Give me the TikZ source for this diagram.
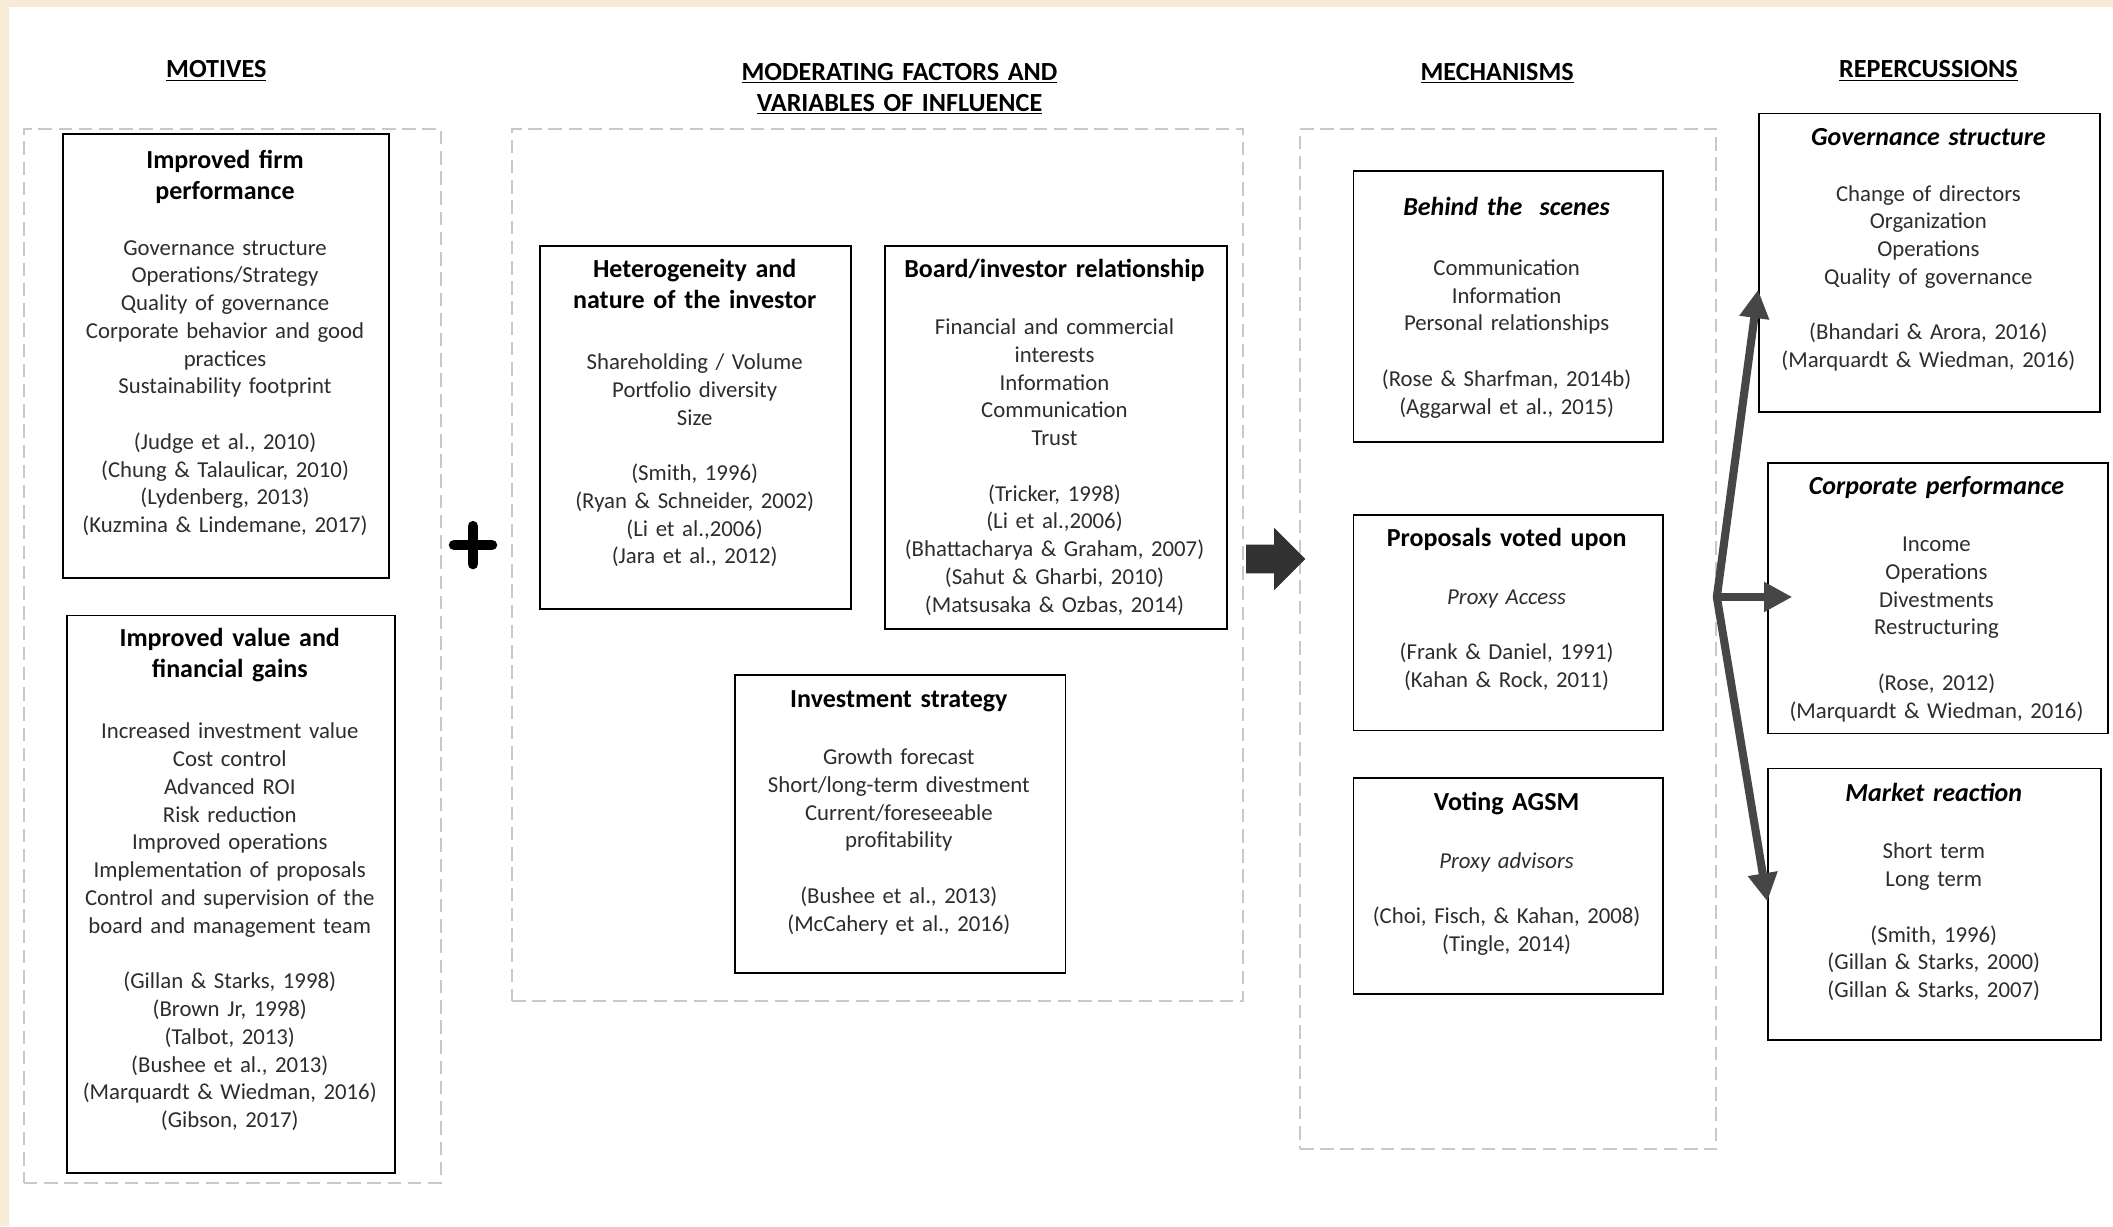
\documentclass[tikz,border=0pt]{standalone}
\usepackage{fontspec}
\setmainfont{Carlito}
\usetikzlibrary{arrows.meta,shapes.arrows}
\definecolor{cream}{RGB}{245,235,215}
\definecolor{dashgray}{RGB}{200,200,200}
\definecolor{bodytext}{RGB}{45,45,45}
\definecolor{arrowdark}{RGB}{50,50,50}
\definecolor{forkgray}{RGB}{70,70,70}
\begin{document}
\begin{tikzpicture}[x=1pt,y=-1pt,
  box/.style={draw=black, line width=1.4pt, inner sep=0pt, anchor=north west},
  cont/.style={draw=dashgray, line width=1.4pt, dash pattern=on 10pt off 5pt, inner sep=0pt, anchor=north west},
  ttl/.style={align=center, text width=#1, inner sep=0pt, anchor=base, yshift=-1pt, font=\fontsize{19.3}{23}\selectfont\bfseries},
  body/.style={align=center, text width=#1, inner sep=0pt, anchor=base, yshift=-1pt, text=bodytext, font=\fontsize{16.9}{20.6}\selectfont},
  hdr/.style={align=center, text width=#1, inner sep=0pt, anchor=base, yshift=-1pt, font=\fontsize{19.4}{23}\selectfont\bfseries},
  forkline/.style={draw=forkgray, line width=6pt, line join=round},
  tipstyle/.style={-{Triangle[width=21pt,length=21pt]}}
]
\useasboundingbox (0,0) rectangle (1568,910);
\fill[white] (0,0) rectangle (1568,910);
\fill[cream] (0,0) rectangle (1568,5);
\fill[cream] (0,0) rectangle (7,910);

% headers
\node[hdr=200] (hmot) at (160.5,56.7) {\underline{MOTIVES}};
\node[hdr=340] (hmod) at (667.5,58.7) {\underline{MODERATING FACTORS AND}\\\underline{VARIABLES OF INFLUENCE}};
\node[hdr=220] (hmech) at (1111,58.7) {\underline{MECHANISMS}};
\node[hdr=220] (hrep) at (1431,56.7) {\underline{REPERCUSSIONS}};

% dashed containers
\node[cont, minimum width=309.4pt, minimum height=782pt] (cmot) at (17,95) {};
\node[cont, minimum width=542.5pt, minimum height=647pt] (cmod) at (379.3,95) {};
\node[cont, minimum width=309pt, minimum height=757pt] (cmech) at (964,95) {};

% Motives
\node[box, minimum width=242pt, minimum height=329pt] (b1) at (46,99) {};
\node[ttl=242pt] (b1t) at (167,123.7) {Improved firm\\performance};
\node[body=242pt] (b1b) at (167,188.3) {Governance structure\\Operations/Strategy\\Quality of governance\\Corporate behavior and good\\practices\\Sustainability footprint\\[20.6pt](Judge et al., 2010)\\(Chung \& Talaulicar, 2010)\\(Lydenberg, 2013)\\(Kuzmina \& Lindemane, 2017)};

\node[box, minimum width=243.5pt, minimum height=414pt] (b2) at (49,456) {};
\node[ttl=243pt] (b2t) at (170.5,478.7) {Improved value and\\financial gains};
\node[body=243pt] (b2b) at (170.5,547.3) {Increased investment value\\Cost control\\Advanced ROI\\Risk reduction\\Improved operations\\Implementation of proposals\\Control and supervision of the\\board and management team\\[20.6pt](Gillan \& Starks, 1998)\\(Brown Jr, 1998)\\(Talbot, 2013)\\(Bushee et al., 2013)\\(Marquardt \& Wiedman, 2016)\\(Gibson, 2017)};

% plus
\coordinate (plus) at (351,404.5);
\draw[line width=8pt, line cap=round] ([xshift=-14pt]plus) -- ([xshift=14pt]plus);
\draw[line width=8pt, line cap=round] ([yshift=-14pt]plus) -- ([yshift=14pt]plus);

% Moderating
\node[box, minimum width=231pt, minimum height=269.5pt] (b3) at (400,182) {};
\node[ttl=231pt] (b3t) at (515.5,204.7) {Heterogeneity and\\nature of the investor};
\node[body=231pt] (b3b) at (515.5,273.3) {Shareholding / Volume\\Portfolio diversity\\Size\\[20.6pt](Smith, 1996)\\(Ryan \& Schneider, 2002)\\(Li et al.,2006)\\(Jara et al., 2012)};

\node[box, minimum width=253.5pt, minimum height=284pt] (b4) at (656,182) {};
\node[ttl=253pt] (b4t) at (782.5,204.7) {Board/investor relationship};
\node[body=253pt] (b4b) at (782.5,247.3) {Financial and commercial\\interests\\Information\\Communication\\Trust\\[20.6pt](Tricker, 1998)\\(Li et al.,2006)\\(Bhattacharya \& Graham, 2007)\\(Sahut \& Gharbi, 2010)\\(Matsusaka \& Ozbas, 2014)};

\node[box, minimum width=245pt, minimum height=221.5pt] (b5) at (545,500) {};
\node[ttl=245pt] (b5t) at (667,523.7) {Investment strategy};
\node[body=245pt] (b5b) at (667,566.3) {Growth forecast\\Short/long-term divestment\\Current/foreseeable\\profitability\\[20.6pt](Bushee et al., 2013)\\(McCahery et al., 2016)};

% block arrow
\node[single arrow, fill=arrowdark, draw=none, inner xsep=0pt, inner ysep=10.4pt, minimum height=44pt, minimum width=46pt, single arrow head extend=12.6pt, anchor=tip] (bigarrow) at (969,414.8) {};

% Mechanisms
\node[box, minimum width=229.5pt, minimum height=201.4pt] (b6) at (1003.7,126.2) {};
\node[ttl=229pt] (b6t) at (1118,158.7) {\itshape Behind the\ \ scenes};
\node[body=229pt] (b6b) at (1118,203.3) {Communication\\Information\\Personal relationships\\[20.6pt](Rose \& Sharfman, 2014b)\\(Aggarwal et al., 2015)};

\node[box, minimum width=229.5pt, minimum height=160pt] (b7) at (1003.7,381.4) {};
\node[ttl=229pt] (b7t) at (1118,404.7) {Proposals voted upon};
\node[body=229pt] (b7b) at (1118,447.3) {\textit{Proxy Access}\\[20.6pt](Frank \& Daniel, 1991)\\(Kahan \& Rock, 2011)};

\node[box, minimum width=229.5pt, minimum height=160.6pt] (b8) at (1003.7,576.6) {};
\node[ttl=229pt] (b8t) at (1118,600.7) {Voting AGSM};
\node[body=229pt] (b8b) at (1118,643.3) {\textit{Proxy advisors}\\[20.6pt](Choi, Fisch, \& Kahan, 2008)\\(Tingle, 2014)};

% Repercussions
\node[box, minimum width=252.8pt, minimum height=221.5pt] (b9) at (1304.6,83.5) {};
\node[ttl=252pt] (b9t) at (1431,106.7) {\itshape Governance structure};
\node[body=252pt] (b9b) at (1431,148.3) {Change of directors\\Organization\\Operations\\Quality of governance\\[20.6pt](Bhandari \& Arora, 2016)\\(Marquardt \& Wiedman, 2016)};

\node[box, minimum width=252.4pt, minimum height=200.4pt] (b10) at (1311,343.2) {};
\node[ttl=252pt] (b10t) at (1437,365.7) {\itshape Corporate performance};
\node[body=252pt] (b10b) at (1437,408.3) {Income\\Operations\\Divestments\\Restructuring\\[20.6pt](Rose, 2012)\\(Marquardt \& Wiedman, 2016)};

\node[box, minimum width=247pt, minimum height=201.4pt] (b11) at (1311.5,569.6) {};
\node[ttl=247pt] (b11t) at (1435,593.7) {\itshape Market reaction};
\node[body=247pt] (b11b) at (1435,636.3) {Short term\\Long term\\[20.6pt](Smith, 1996)\\(Gillan \& Starks, 2000)\\(Gillan \& Starks, 2007)};

% fork arrows
\coordinate (fork) at (1274,443);
\coordinate (upTip) at (b9.west |- 0,215);
\coordinate (midTip) at (1330,443);
\coordinate (downTip) at (b11.west |- 0,669);
\draw[forkline, {Triangle[width=21pt,length=21pt]}-{Triangle[width=21pt,length=21pt]}] (upTip) -- (fork) -- (downTip);
\draw[forkline, tipstyle] (fork) -- (midTip);
\end{tikzpicture}
\end{document}
